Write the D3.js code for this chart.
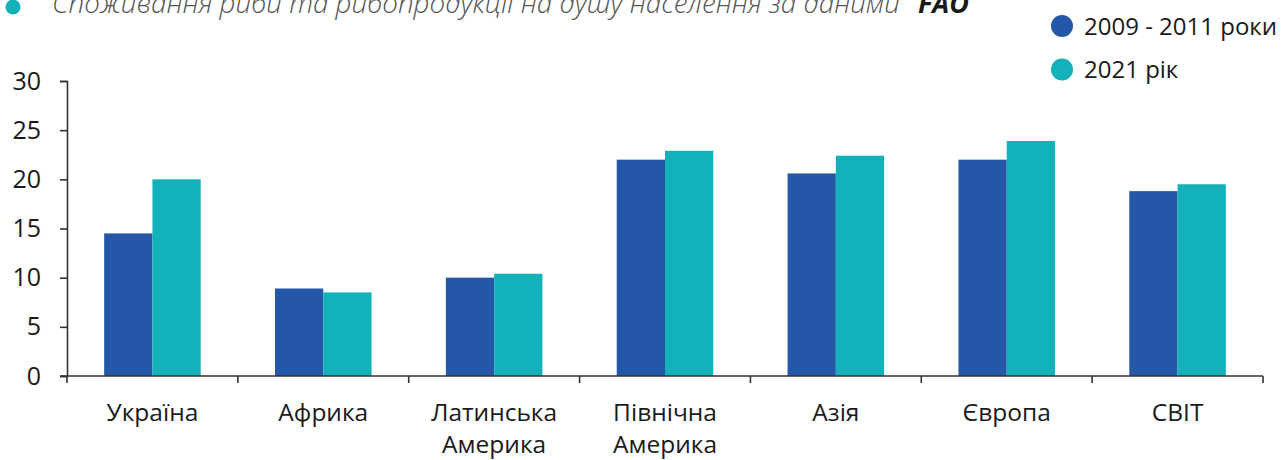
<!DOCTYPE html>
<html>
<head>
<meta charset="utf-8">
<script src="https://cdn.jsdelivr.net/npm/d3@7"></script>
<style>
  body { margin: 0; background: #fff; }
  svg { display: block; font-family: "Open Sans", sans-serif; }
</style>
</head>
<body>
<svg width="1287" height="460"></svg>
<script>
// values
const categories = ["Україна", "Африка", "Латинська\nАмерика", "Північна\nАмерика", "Азія", "Європа", "СВІТ"];
const seriesNames = ["2009 - 2011 роки", "2021 рік"];
const values2009 = [14.5, 8.9, 10.0, 22.0, 20.6, 22.0, 18.8];
const values2021 = [20.0, 8.5, 10.4, 22.9, 22.4, 23.9, 19.5];
const yTicks = [0, 5, 10, 15, 20, 25, 30];
const colors = ["#2457a7", "#13b1b9"];

const data = categories.map((c, i) => ({ cat: c, vals: [values2009[i], values2021[i]] }));

const svg = d3.select("svg");

const x0 = d3.scaleBand()
  .domain(categories)
  .range([67, 1263]);

const groupW = x0.bandwidth() * 0.565;
const x1 = d3.scaleBand()
  .domain([0, 1])
  .range([0, groupW]);

const y = d3.scaleLinear()
  .domain([0, 30])
  .range([376, 81]);

// bars
const groups = svg.append("g")
  .selectAll("g")
  .data(data)
  .enter()
  .append("g")
  .attr("transform", d => `translate(${x0(d.cat) + (x0.bandwidth() - groupW) / 2},0)`);

groups.selectAll("rect")
  .data(d => d.vals.map((v, k) => ({ k, v })))
  .enter()
  .append("rect")
  .attr("x", d => x1(d.k))
  .attr("width", x1.bandwidth())
  .attr("y", d => y(d.v))
  .attr("height", d => y(0) - y(d.v))
  .attr("fill", d => colors[d.k]);

// y axis
const yAxis = svg.append("g")
  .attr("transform", "translate(67,0)")
  .call(d3.axisLeft(y).tickValues(yTicks).tickSize(7).tickPadding(19));
yAxis.selectAll("line, path").attr("stroke", "#333").attr("stroke-width", 1.6);
yAxis.selectAll("text")
  .attr("font-size", 25)
  .attr("fill", "#1a1a1a")
  .attr("font-family", "'Open Sans', sans-serif");

// x axis line with ticks on band edges
const xa = svg.append("g");
xa.append("line")
  .attr("x1", 60).attr("x2", x0.range()[1])
  .attr("y1", y(0)).attr("y2", y(0))
  .attr("stroke", "#333").attr("stroke-width", 1.6);
const edges = categories.map(c => x0(c)).concat([x0.range()[1]]);
xa.selectAll(".edge")
  .data(edges)
  .enter()
  .append("line")
  .attr("x1", d => d).attr("x2", d => d)
  .attr("y1", y(0)).attr("y2", y(0) + 7)
  .attr("stroke", "#333").attr("stroke-width", 1.6);

// category labels
const labels = svg.append("g")
  .selectAll("text")
  .data(categories)
  .enter()
  .append("text")
  .attr("text-anchor", "middle")
  .attr("font-size", 24.5)
  .attr("fill", "#1a1a1a")
  .attr("transform", d => `translate(${x0(d) + x0.bandwidth() / 2},421)`);
labels.selectAll("tspan")
  .data(d => d.split("\n"))
  .enter()
  .append("tspan")
  .attr("x", 0)
  .attr("y", (d, i) => i * 32)
  .text(d => d);

// title (cut off at top like the reference)
svg.append("circle")
  .attr("cx", 13).attr("cy", 7).attr("r", 7.5)
  .attr("fill", colors[1]);
const title = svg.append("text")
  .attr("x", 52).attr("y", 13)
  .attr("font-size", 27)
  .attr("font-style", "italic")
  .attr("font-weight", 300)
  .attr("fill", "#555");
title.append("tspan")
  .attr("textLength", 848)
  .attr("lengthAdjust", "spacingAndGlyphs")
  .text("Споживання риби та рибопродукції на душу населення за даними");
title.append("tspan")
  .attr("x", 918)
  .attr("font-weight", 700)
  .attr("fill", "#1a1a1a")
  .text("FAO");

// legend
const legend = svg.append("g")
  .selectAll("g")
  .data(seriesNames)
  .enter()
  .append("g")
  .attr("transform", (d, i) => `translate(1062,${26 + i * 43.5})`);
legend.append("circle")
  .attr("r", 11)
  .attr("fill", (d, i) => colors[i]);
legend.append("text")
  .attr("x", 22)
  .attr("y", 8.5)
  .attr("font-size", 24)
  .attr("fill", "#1a1a1a")
  .text(d => d);
</script>
</body>
</html>
